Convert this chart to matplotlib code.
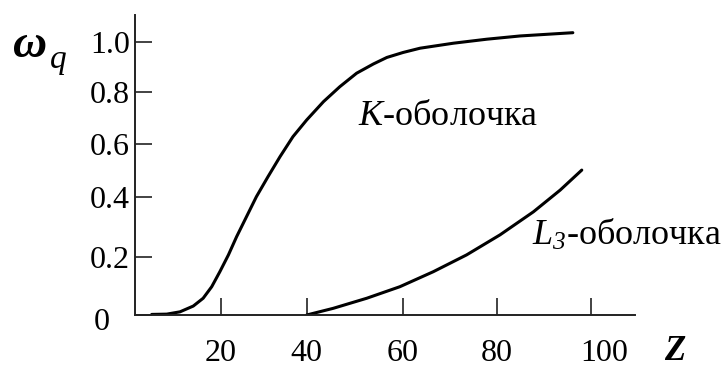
import numpy as np
import matplotlib
matplotlib.use('Agg')
import matplotlib.pyplot as plt
from matplotlib.transforms import ScaledTranslation

plt.rcParams['font.family'] = ['Liberation Serif', 'DejaVu Serif']
plt.rcParams['mathtext.fontset'] = 'custom'
plt.rcParams['mathtext.rm'] = 'Liberation Serif:italic'
plt.rcParams['mathtext.it'] = 'Liberation Serif:italic'

# —— 数据——
# K-оболочка
z_k = [3.9, 7.4, 10.5, 13.6, 15.9, 17.9, 19.8, 21.8, 23.7, 26.0, 28.3, 31.0, 33.8,
       36.8, 40.0, 43.5, 46.9, 50.4, 53.9, 56.7, 60.1, 63.7, 70.8, 77.9, 85.0, 96.2]
w_k = [0.002, 0.003, 0.011, 0.031, 0.058, 0.098, 0.150, 0.208, 0.268, 0.334, 0.400,
       0.476, 0.552, 0.628, 0.692, 0.762, 0.820, 0.874, 0.911, 0.937, 0.957, 0.974,
       0.994, 1.010, 1.023, 1.036]
# L3-оболочка
z_l3 = [40, 45.5, 52.5, 59.4, 66.5, 73.6, 80.7, 87.8, 93.5, 98.1]
w_l3 = [0.0, 0.023, 0.058, 0.098, 0.150, 0.208, 0.274, 0.350, 0.425, 0.501]

x_ticks = [20, 40, 60, 80, 100]
x_ticklabels = ['20', '40', '60', '80', '100']
y_ticks = [0, 0.2, 0.4, 0.6, 0.8, 1.0]
y_ticklabels = ['0', '0.2', '0.4', '0.6', '0.8', '1.0']

# 原图刻度间距不均匀 -> 分段线性坐标
x_marks = [-20, 0, 20, 40, 60, 80, 100, 140]
x_pos = [-85.7, 0, 85.7, 171.7, 267.7, 361.7, 455.7, 643.7]
y_marks = [-0.2, 0, 0.2, 0.4, 0.6, 0.8, 1.0, 1.4]
y_pos = [-57.7, 0, 57.7, 118.3, 171.0, 223.3, 273.3, 373.3]


def fwd_x(v):
    return np.interp(v, x_marks, x_pos)


def inv_x(p):
    return np.interp(p, x_pos, x_marks)


def fwd_y(v):
    return np.interp(v, y_marks, y_pos)


def inv_y(p):
    return np.interp(p, y_pos, y_marks)


W, H = 723, 367
fig = plt.figure(figsize=(W / 100, H / 100), dpi=100)
ax = fig.add_axes([135 / W, 52 / H, 500 / W, 300 / H])
ax.set_xscale('function', functions=(fwd_x, inv_x))
ax.set_yscale('function', functions=(fwd_y, inv_y))

ax.plot(z_k, w_k, color='black', lw=2.2, solid_capstyle='round', solid_joinstyle='round')
ax.plot(z_l3, w_l3, color='black', lw=2.2, solid_capstyle='round', solid_joinstyle='round')

ax.set_xlim(0, inv_x(500))
ax.set_ylim(0, inv_y(300))

for s in ['top', 'right']:
    ax.spines[s].set_visible(False)
for s in ['left', 'bottom']:
    ax.spines[s].set_linewidth(1.4)
    ax.spines[s].set_color('#222222')

ax.set_xticks(x_ticks)
ax.set_xticklabels(x_ticklabels)
ax.set_yticks(y_ticks)
ax.set_yticklabels(y_ticklabels)
ax.tick_params(direction='in', length=12.5, width=1.2, color='#222222',
               labelsize=23, labelcolor='black')
ax.tick_params(axis='x', pad=17)
ax.tick_params(axis='y', pad=3.5)
ax.minorticks_off()

# 个别刻度标签位置微调
lab = ax.get_xticklabels()[-1]
lab.set_transform(lab.get_transform() + ScaledTranslation(0.13, 0, fig.dpi_scale_trans))
lab = ax.get_yticklabels()[0]
lab.set_transform(lab.get_transform() + ScaledTranslation(-0.20, -0.04, fig.dpi_scale_trans))

# 曲线标注
ax.text(50.7, 0.673, '$K$-оболочка', fontsize=26, ha='left', va='baseline')
ax.text(87.5, 0.24, '$L_3$-оболочка', fontsize=26, ha='left', va='baseline')

# 坐标轴名称
fig.text(13 / W, 1 - 57 / H, 'ω', fontsize=34, fontweight='bold', style='italic',
         ha='left', va='baseline')
fig.text(50 / W, 1 - 68 / H, 'q', fontsize=24, style='italic',
         ha='left', va='baseline')
fig.text(675 / W, 1 - 360 / H, 'Z', fontsize=25, fontweight='bold', style='italic',
         ha='center', va='baseline')

fig.savefig('out.png', dpi=100)
